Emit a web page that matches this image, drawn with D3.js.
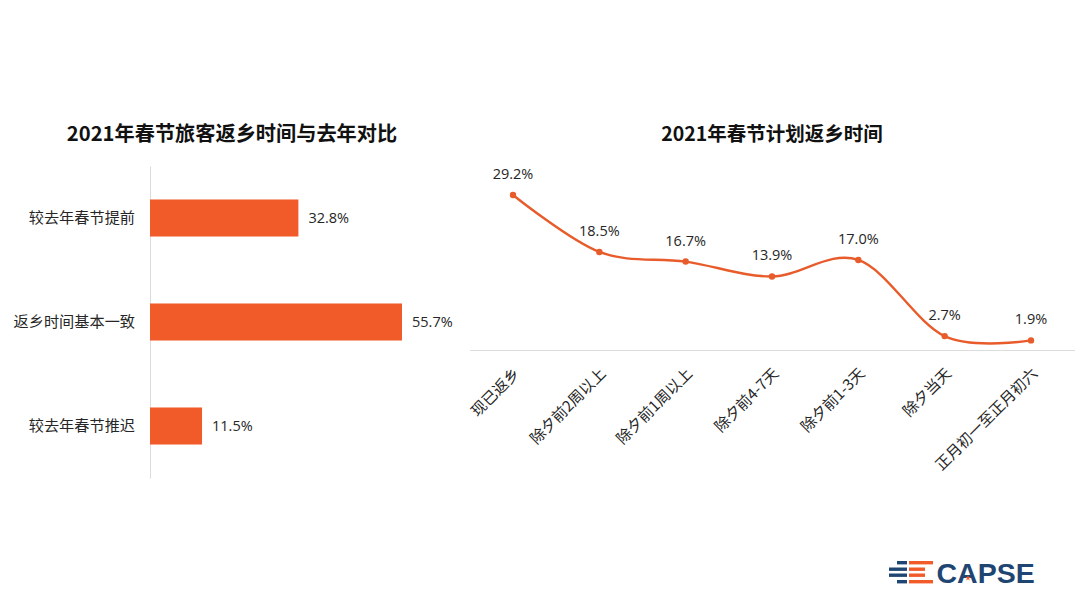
<!DOCTYPE html>
<html>
<head>
<meta charset="utf-8">
<script src="https://cdn.jsdelivr.net/npm/d3@7"></script>
<style>
html, body { margin: 0; padding: 0; background: #fff; }
text { font-family: "Noto Sans CJK SC", "Open Sans", sans-serif; }
.domain { stroke: #dcdcdc; }
.tick text { fill: #262626; font-size: 15.2px; }
.val { fill: #262626; font-size: 14.5px; font-family: "Open Sans", "Noto Sans CJK SC", sans-serif; }
.title { fill: #111; font-weight: 700; text-anchor: middle; }
</style>
</head>
<body>
<svg id="main" width="1080" height="603"></svg>
<script>
var barTitle = "2021年春节旅客返乡时间与去年对比",
    lineTitle = "2021年春节计划返乡时间";

var barCats = ["较去年春节提前", "返乡时间基本一致", "较去年春节推迟"],
    barVals = [32.8, 55.7, 11.5];

var lineCats = ["现已返乡", "除夕前2周以上", "除夕前1周以上", "除夕前4-7天", "除夕前1-3天", "除夕当天", "正月初一至正月初六"],
    lineVals = [29.2, 18.5, 16.7, 13.9, 17.0, 2.7, 1.9];

var orange = "#f15a29",
    navy = "#1f4673",
    svg = d3.select("#main");

svg.append("text").attr("class", "title").attr("x", 232).attr("y", 141).attr("font-size", 20.2).text(barTitle);
svg.append("text").attr("class", "title").attr("x", 772).attr("y", 141).attr("font-size", 19.5).text(lineTitle);

/**
 * Bars
 */
var barX = d3.scaleLinear().domain([0, 55.7]).range([150, 402]),
    barY = d3.scaleBand().domain(barCats).range([166, 478]).paddingInner(0.644).paddingOuter(0.322);

svg.append("g")
    .attr("transform", "translate(150,0)")
    .call(d3.axisLeft(barY).tickSize(0).tickPadding(15))
    .call(function(g) { g.selectAll(".tick text").attr("font-family", "Noto Sans CJK SC"); });

svg.selectAll(".bar")
    .data(barVals)
    .enter()
    .append("rect")
    .attr("class", "bar")
    .attr("fill", orange)
    .attr("x", barX(0))
    .attr("y", function(d, i) { return barY(barCats[i]); })
    .attr("width", function(d) { return barX(d) - barX(0); })
    .attr("height", barY.bandwidth());

svg.selectAll(".barval")
    .data(barVals)
    .enter()
    .append("text")
    .attr("class", "val")
    .attr("x", function(d) { return barX(d) + 10; })
    .attr("y", function(d, i) { return barY(barCats[i]) + barY.bandwidth() / 2; })
    .attr("dy", "0.35em")
    .text(function(d) { return d.toFixed(1) + "%"; });

/**
 * Line
 */
var lineX = d3.scalePoint().domain(lineCats).range([513, 1031]),
    lineY = d3.scaleLinear().domain([0, 29.2]).range([350.5, 195]);

var xAxis = svg.append("g")
    .attr("transform", "translate(0,350.5)")
    .call(d3.axisBottom(lineX).tickSize(0).tickSizeOuter(0));

xAxis.select(".domain").attr("d", "M470,0H1075");

xAxis.selectAll(".tick text")
    .attr("text-anchor", "end")
    .attr("y", 0)
    .attr("dy", 0)
    .attr("transform", "translate(7,24) rotate(-45)");

var line = d3.line()
    .x(function(d, i) { return lineX(lineCats[i]); })
    .y(function(d) { return lineY(d); })
    .curve(d3.curveCardinal.tension(0));

svg.append("path")
    .attr("d", line(lineVals))
    .attr("fill", "none")
    .attr("stroke", "#e85b2a")
    .attr("stroke-width", 2.4);

svg.selectAll(".pt")
    .data(lineVals)
    .enter()
    .append("circle")
    .attr("class", "pt")
    .attr("fill", "#e85b2a")
    .attr("r", 3.2)
    .attr("cx", function(d, i) { return lineX(lineCats[i]); })
    .attr("cy", function(d) { return lineY(d); });

svg.selectAll(".lineval")
    .data(lineVals)
    .enter()
    .append("text")
    .attr("class", "val")
    .attr("text-anchor", "middle")
    .attr("x", function(d, i) { return lineX(lineCats[i]); })
    .attr("y", function(d) { return lineY(d) - 16; })
    .text(function(d) { return d.toFixed(1) + "%"; });

/**
 * Logo
 */
var logo = svg.append("g").attr("transform", "translate(889,561)");

var logoBars = [
    [8, 0, 10, navy], [0, 6.5, 18, navy], [0, 12.5, 18, navy], [8, 19, 10, navy],
    [20, 0, 24, orange], [20, 6.5, 16, orange], [20, 12.5, 16, orange], [20, 19, 24, orange]
];

logo.selectAll("rect")
    .data(logoBars)
    .enter()
    .append("rect")
    .attr("x", function(d) { return d[0]; })
    .attr("y", function(d) { return d[1]; })
    .attr("width", function(d) { return d[2]; })
    .attr("height", 3.4)
    .attr("fill", function(d) { return d[3]; });

logo.append("text")
    .attr("x", 47.5)
    .attr("y", 21.5)
    .attr("fill", navy)
    .attr("font-size", 28.5)
    .attr("font-weight", 700)
    .style("font-family", "'Liberation Sans', sans-serif")
    .text("CAPSE");

logo.append("path")
    .attr("transform", "translate(79,17)")
    .attr("fill", orange)
    .attr("d", d3.symbol(d3.symbolStar, 10)());
</script>
</body>
</html>
